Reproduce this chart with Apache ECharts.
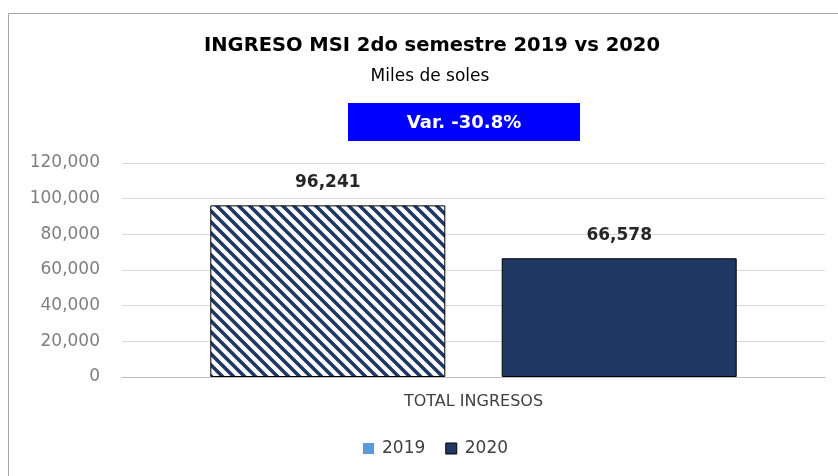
<!DOCTYPE html>
<html>
<head>
<meta charset="utf-8">
<script src="https://cdn.jsdelivr.net/npm/echarts@6/dist/echarts.min.js"></script>
<style>
  html, body { margin: 0; padding: 0; background: #fff; }
  #chart { width: 838px; height: 476px; }
</style>
</head>
<body>
<div id="chart"></div>
<script>
var categories = ['TOTAL INGRESOS'];
var years = ['2019', '2020'];
var values2019 = [96241];
var values2020 = [66578];
var yTicks = [0, 20000, 40000, 60000, 80000, 100000, 120000];
var variation = 'Var. -30.8%';

// diagonal hatch for the 2019 bar
function hatch() {
    var s = 11;
    var c = document.createElement('canvas');
    c.width = s; c.height = s;
    var ctx = c.getContext('2d');
    ctx.fillStyle = '#ffffff';
    ctx.fillRect(0, 0, s, s);
    ctx.strokeStyle = '#203864';
    ctx.lineWidth = 3.6;
    ctx.beginPath();
    ctx.moveTo(-s, -s); ctx.lineTo(2 * s, 2 * s);
    ctx.moveTo(-s, 0); ctx.lineTo(s, 2 * s);
    ctx.moveTo(0, -s); ctx.lineTo(2 * s, s);
    ctx.stroke();
    return c;
}

var fmt = function (v) { return v.toLocaleString('en-US'); };
var font = '"DejaVu Sans", sans-serif';

var option = {
    animation: false,
    textStyle: { fontFamily: font },
    graphic: [
        {
            type: 'rect', left: 6, top: 11, silent: true,
            shape: { width: 900, height: 500 },
            style: { fill: 'none', stroke: '#a6a6a6', lineWidth: 1 }
        },
        {
            type: 'text', x: 432, y: 46,
            style: { text: 'INGRESO MSI 2do semestre 2019 vs 2020', font: 'bold 19.5px ' + font, fill: '#000', textAlign: 'center', textVerticalAlign: 'middle' }
        },
        {
            type: 'text', x: 430, y: 77,
            style: { text: 'Miles de soles', font: '17px ' + font, fill: '#000', textAlign: 'center', textVerticalAlign: 'middle' }
        },
        {
            type: 'rect', left: 348, top: 103,
            shape: { width: 232, height: 38 },
            style: { fill: '#0000ff' }
        },
        {
            type: 'text', x: 464, y: 123,
            style: { text: variation, font: 'bold 18px ' + font, fill: '#fff', textAlign: 'center', textVerticalAlign: 'middle' }
        }
    ],
    legend: {
        bottom: 14,
        left: 358,
        itemWidth: 11,
        itemHeight: 11,
        itemGap: 20,
        textStyle: { fontSize: 17, color: '#404040', padding: [0, 0, 0, 3] },
        data: [
            { name: years[0], icon: 'rect', itemStyle: { color: '#5b9bd5', borderWidth: 0 } },
            { name: years[1], icon: 'rect', itemStyle: { color: '#203864', borderColor: '#000', borderWidth: 1 } }
        ]
    },
    grid: { left: 122, right: 13, top: 163, bottom: 99 },
    xAxis: {
        type: 'category',
        data: categories,
        axisLine: { lineStyle: { color: '#bfbfbf' } },
        axisTick: { show: false },
        axisLabel: { color: '#404040', fontSize: 16, margin: 17 }
    },
    yAxis: {
        type: 'value',
        min: yTicks[0],
        max: yTicks[yTicks.length - 1],
        interval: yTicks[1] - yTicks[0],
        axisLine: { show: false },
        axisTick: { show: false },
        splitLine: { lineStyle: { color: '#d9d9d9' } },
        axisLabel: { color: '#7f7f7f', fontSize: 17, margin: 22, formatter: fmt }
    },
    series: [
        {
            name: years[0],
            type: 'bar',
            data: values2019,
            barWidth: 235,
            barGap: '24%',
            itemStyle: { color: { image: hatch(), repeat: 'repeat' }, borderColor: '#000', borderWidth: 1 },
            label: { show: true, position: 'top', distance: 14, fontWeight: 'bold', fontSize: 17, color: '#262626', formatter: function (p) { return fmt(p.value); } }
        },
        {
            name: years[1],
            type: 'bar',
            data: values2020,
            barWidth: 235,
            itemStyle: { color: '#203864', borderColor: '#000', borderWidth: 1 },
            label: { show: true, position: 'top', distance: 14, fontWeight: 'bold', fontSize: 17, color: '#262626', formatter: function (p) { return fmt(p.value); } }
        }
    ]
};

var myChart = echarts.init(document.getElementById('chart'));
myChart.setOption(option);
</script>
</body>
</html>
